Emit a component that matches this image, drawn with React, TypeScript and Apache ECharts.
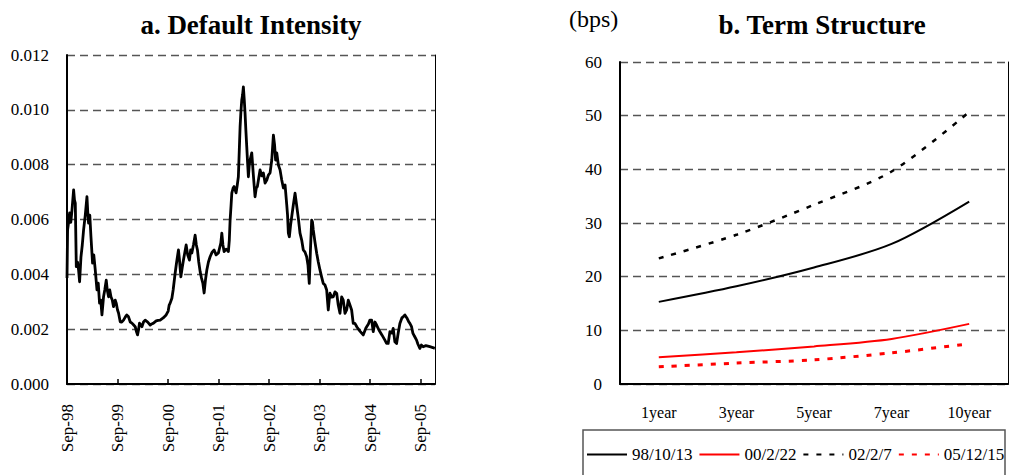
import React, { useEffect, useRef } from "react";
import * as echarts from "echarts";

// Panel a: default intensity; x = months since Sep-98
const intensityMonths = [
  0, 0.14, 0.38, 0.62, 0.9, 1.19, 1.57, 1.78, 1.97, 2.21, 2.49, 2.75, 2.99, 3.32, 3.63, 3.94, 4.34, 4.74, 4.93, 5.12,
  5.41, 5.69, 6.07, 6.36, 6.71, 7.12, 7.42, 7.73, 8.02, 8.3, 8.68, 8.97, 9.32, 9.56, 9.87, 10.15, 10.44, 10.75, 11.05, 11.46,
  11.69, 12, 12.24, 12.64, 13, 13.43, 13.83, 14.18, 14.61, 15.02, 15.42, 15.84, 16.2, 16.51, 16.75, 16.98, 17.22, 17.51, 17.79, 18.17,
  18.57, 19.17, 19.76, 20.11, 20.54, 21.18, 21.66, 22.13, 22.84, 23.55, 24.03, 24.27, 24.5, 24.91, 25.21, 25.69, 26.04, 26.47, 26.76, 27.04,
  27.35, 27.66, 27.99, 28.3, 28.66, 29.08, 29.37, 29.65, 30.03, 30.43, 30.72, 30.98, 31.29, 31.62, 31.93, 32.26, 32.57, 32.88, 33.21, 33.59,
  33.99, 34.47, 34.94, 35.41, 35.96, 36.24, 36.53, 36.77, 37.03, 37.31, 37.79, 38.33, 38.55, 38.74, 38.97, 39.14, 39.45, 39.68, 39.92, 40.16,
  40.44, 40.7, 40.92, 41.11, 41.3, 41.51, 41.7, 41.89, 42.1, 42.29, 42.48, 42.69, 42.88, 43.08, 43.29, 43.48, 43.88, 44.26, 44.66, 44.95,
  45.21, 45.54, 45.85, 46.26, 46.64, 47.04, 47.45, 47.82, 48.23, 48.63, 49.02, 49.3, 49.54, 49.82, 50.2, 50.6, 51, 51.39, 51.79, 52.19,
  52.38, 52.57, 52.81, 53.1, 53.37, 53.75, 54.16, 54.53, 54.94, 55.34, 55.74, 56.12, 56.53, 56.92, 57.23, 57.54, 57.82, 58.11, 58.3, 58.49,
  58.89, 59.3, 59.68, 60.08, 60.48, 60.86, 61.27, 61.67, 61.86, 62.05, 62.27, 62.46, 62.86, 63.24, 63.64, 64.05, 64.42, 64.83, 65.23, 65.61,
  66.02, 66.42, 66.8, 67.2, 67.6, 67.98, 68.38, 68.86, 69.57, 70.35, 70.99, 71.59, 71.94, 72.35, 72.73, 73.13, 73.53, 74.08, 74.79, 75.5,
  75.9, 76.28, 76.69, 77.16, 77.47, 77.87, 78.28, 78.66, 79.06, 79.53, 79.84, 80.25, 80.72, 81.2, 81.43, 81.83, 82.14, 82.5, 83.02, 83.33,
  83.81, 84.16, 84.59, 85.23, 86.18, 86.89, 87.36,
];
const intensityValues = [
  0.00387, 0.00562, 0.0059, 0.00624, 0.0059, 0.00635, 0.00708, 0.00671, 0.0066, 0.00428, 0.00445, 0.00416, 0.00373, 0.00464, 0.00507, 0.00562, 0.00616, 0.00683, 0.00627, 0.00587,
  0.00616, 0.00537, 0.00441, 0.00471, 0.00416, 0.00343, 0.00368, 0.00295, 0.00306, 0.00252, 0.00318, 0.00343, 0.00379, 0.00343, 0.00318, 0.00343, 0.00318, 0.00306, 0.00282, 0.00306,
  0.00295, 0.0027, 0.00259, 0.00227, 0.00226, 0.00233, 0.00244, 0.00252, 0.00245, 0.00226, 0.00222, 0.00215, 0.00209, 0.0019, 0.00179, 0.00197, 0.00222, 0.00215, 0.00209, 0.00226,
  0.00233, 0.00226, 0.00215, 0.00219, 0.00222, 0.0023, 0.00232, 0.00233, 0.00241, 0.00252, 0.00266, 0.00288, 0.00295, 0.00313, 0.00343, 0.00405, 0.00445, 0.00489, 0.00445, 0.00391,
  0.00423, 0.00452, 0.00481, 0.00507, 0.00471, 0.00452, 0.00489, 0.00478, 0.00507, 0.00543, 0.00507, 0.00489, 0.00445, 0.0041, 0.00387, 0.00368, 0.00332, 0.00379, 0.00416, 0.00445,
  0.00464, 0.00481, 0.00489, 0.00471, 0.00478, 0.00496, 0.00514, 0.0055, 0.00507, 0.00483, 0.00492, 0.00483, 0.00525, 0.00598, 0.00653, 0.00696, 0.00715, 0.0072, 0.00708, 0.00697,
  0.00726, 0.00756, 0.00853, 0.00938, 0.00992, 0.01036, 0.01054, 0.01084, 0.01036, 0.00987, 0.00926, 0.00866, 0.0081, 0.00756, 0.00799, 0.00817, 0.00843, 0.00762, 0.00683, 0.00715,
  0.0072, 0.00751, 0.00781, 0.00759, 0.0077, 0.00733, 0.00744, 0.00762, 0.0077, 0.00817, 0.00908, 0.00872, 0.00817, 0.00843, 0.00799, 0.00781, 0.00744, 0.00715, 0.00726, 0.00653,
  0.00616, 0.0055, 0.00537, 0.0058, 0.0061, 0.00653, 0.00696, 0.00653, 0.00605, 0.0055, 0.00525, 0.00489, 0.00481, 0.00464, 0.00434, 0.00367, 0.00489, 0.00598, 0.00591, 0.00562,
  0.00518, 0.00477, 0.00445, 0.00416, 0.0039, 0.00367, 0.00361, 0.00343, 0.00306, 0.0027, 0.00306, 0.00331, 0.00317, 0.00318, 0.00336, 0.00331, 0.00288, 0.00258, 0.00318, 0.00306,
  0.00258, 0.0027, 0.00306, 0.00288, 0.0027, 0.00221, 0.00221, 0.00208, 0.00193, 0.00179, 0.00204, 0.00219, 0.00233, 0.00233, 0.00191, 0.00226, 0.00215, 0.00197, 0.00179, 0.0016,
  0.00148, 0.00148, 0.00191, 0.00186, 0.00203, 0.00154, 0.00148, 0.00186, 0.00221, 0.00241, 0.00245, 0.00252, 0.00241, 0.00226, 0.00221, 0.00209, 0.00186, 0.00175, 0.0016, 0.00146,
  0.0013, 0.00142, 0.00136, 0.0014, 0.00136, 0.00133, 0.0013,
];

// Panel b: term structure (bps)
const tenors = ["1year", "3year", "5year", "7year", "10year"];
const seriesNames = ["98/10/13", "00/2/22", "02/2/7", "05/12/15"];
const spread981013 = [15.3, 18.2, 21.7, 26.1, 34.0];
const spread000222 = [5.0, 5.9, 7.0, 8.4, 11.2];
const spread020207 = [23.4, 27.8, 33.4, 39.6, 50.7];
const spread051215 = [3.2, 3.9, 4.5, 5.8, 7.5];

const FONT = "Liberation Serif";

export default function App() {
  const ref = useRef<HTMLDivElement>(null);
  useEffect(() => {
    if (!ref.current) return;
    const chart = echarts.init(ref.current, null, { renderer: "svg" });
    const labelStyle = { fontFamily: FONT, fontSize: 17, color: "#000" };
    const option: any = {
      animation: false,
      backgroundColor: "#fff",
      textStyle: { fontFamily: FONT },
      title: [
        {
          text: "a. Default Intensity",
          left: 246,
          top: 6,
          textAlign: "center",
          textStyle: { fontFamily: FONT, fontWeight: "bold", fontSize: 27, color: "#000" },
        },
        {
          text: "b. Term Structure",
          left: 817,
          top: 6,
          textAlign: "center",
          textStyle: { fontFamily: FONT, fontWeight: "bold", fontSize: 27, color: "#000" },
        },
      ],
      graphic: [
        {
          type: "text",
          left: 569,
          top: 7,
          style: { text: "(bps)", font: `24px ${FONT}`, fill: "#000" },
        },
        {
          type: "polyline",
          shape: { points: [[583, 480], [583, 430], [1005, 430], [1005, 480]] },
          style: { fill: "none", stroke: "#555", lineWidth: 1.5 },
          silent: true,
        },
      ],
      legend: {
        data: seriesNames,
        left: 583,
        top: 430,
        orient: "horizontal",
        itemWidth: 40,
        itemHeight: 4,
        itemGap: 6,
        padding: [16, 2, 10, 3],
        itemStyle: { opacity: 0 },
        textStyle: { ...labelStyle },
      },
      grid: [
        { left: 67, right: 576, top: 55, bottom: 91 },
        { left: 620, right: 3, top: 62, bottom: 91 },
      ],
      xAxis: [
        {
          type: "value",
          gridIndex: 0,
          min: 0,
          max: 87.4,
          interval: 12,
          axisLine: { lineStyle: { color: "#000", width: 2 } },
          axisTick: { inside: true, length: 5, lineStyle: { color: "#000", width: 1.5 } },
          axisLabel: {
            ...labelStyle,
            rotate: 90,
            margin: 20,
            showMaxLabel: false,
            formatter: (v: number) => {
              if (Math.abs(v % 12) > 1e-6) return "";
              const yy = (98 + v / 12) % 100;
              return "Sep-" + String(yy).padStart(2, "0");
            },
          },
          splitLine: { show: false },
        },
        {
          type: "category",
          gridIndex: 1,
          data: tenors,
          boundaryGap: true,
          axisLine: { lineStyle: { color: "#000", width: 2 } },
          axisTick: { inside: true, length: 5, lineStyle: { color: "#000", width: 1.5 } },
          axisLabel: { ...labelStyle, fontSize: 16, margin: 20 },
          splitLine: { show: false },
        },
      ],
      yAxis: [
        {
          type: "value",
          gridIndex: 0,
          min: 0,
          max: 0.012,
          interval: 0.002,
          axisLine: { show: true, lineStyle: { color: "#000", width: 2 } },
          axisTick: { show: false },
          axisLabel: { ...labelStyle, margin: 18, formatter: (v: number) => v.toFixed(3) },
          splitLine: { show: true, lineStyle: { type: [8, 5], color: "#555", width: 1.3 } },
        },
        {
          type: "value",
          gridIndex: 0,
          position: "right",
          min: 0,
          max: 0.012,
          interval: 0.002,
          axisLine: { show: true, lineStyle: { color: "#000", width: 1 } },
          axisTick: { show: false },
          axisLabel: { show: false },
          splitLine: { show: false },
        },
        {
          type: "value",
          gridIndex: 1,
          min: 0,
          max: 60,
          interval: 10,
          axisLine: { show: true, lineStyle: { color: "#000", width: 2 } },
          axisTick: { show: false },
          axisLabel: { ...labelStyle, margin: 18 },
          splitLine: { show: true, lineStyle: { type: [8, 5], color: "#555", width: 1.3 } },
        },
        {
          type: "value",
          gridIndex: 1,
          position: "right",
          min: 0,
          max: 60,
          interval: 10,
          axisLine: { show: true, lineStyle: { color: "#000", width: 1 } },
          axisTick: { show: false },
          axisLabel: { show: false },
          splitLine: { show: false },
        },
      ],
      series: [
        {
          name: "Default Intensity",
          type: "line",
          xAxisIndex: 0,
          yAxisIndex: 0,
          symbol: "none",
          data: intensityMonths.map((m, i) => [m, intensityValues[i]]),
          lineStyle: { color: "#000", width: 2.8, join: "round" },
        },
        {
          name: seriesNames[0],
          type: "line",
          xAxisIndex: 1,
          yAxisIndex: 2,
          symbol: "none",
          smooth: 0.3,
          data: spread981013,
          itemStyle: { color: "#000" },
          lineStyle: { color: "#000", width: 2 },
        },
        {
          name: seriesNames[1],
          type: "line",
          xAxisIndex: 1,
          yAxisIndex: 2,
          symbol: "none",
          smooth: 0.3,
          data: spread000222,
          itemStyle: { color: "#ff0000" },
          lineStyle: { color: "#ff0000", width: 2 },
        },
        {
          name: seriesNames[2],
          type: "line",
          xAxisIndex: 1,
          yAxisIndex: 2,
          symbol: "none",
          smooth: 0.3,
          data: spread020207,
          itemStyle: { color: "#000" },
          lineStyle: { color: "#000", width: 2.5, type: [5, 8] },
        },
        {
          name: seriesNames[3],
          type: "line",
          xAxisIndex: 1,
          yAxisIndex: 2,
          symbol: "none",
          smooth: 0.3,
          data: spread051215,
          itemStyle: { color: "#ff0000" },
          lineStyle: { color: "#ff0000", width: 3, type: [5, 8] },
        },
      ],
    };
    chart.setOption(option);
    return () => chart.dispose();
  }, []);
  return (
    <div
      ref={ref}
      style={{ position: "absolute", left: 0, top: 0, width: 1011, height: 475, background: "#fff" }}
    />
  );
}
